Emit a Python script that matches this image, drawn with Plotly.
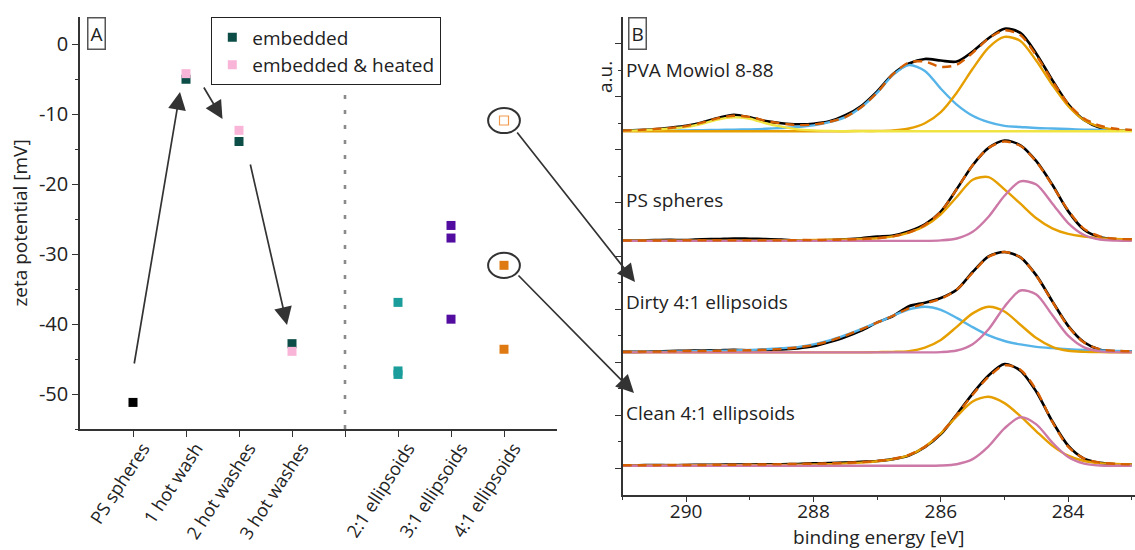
import plotly.graph_objects as go

# ---------------- Panel A: zeta potential ----------------
category_labels = ["PS spheres", "1 hot wash", "2 hot washes", "3 hot washes", "",
                   "2:1 ellipsoids", "3:1 ellipsoids", "4:1 ellipsoids"]
category_pos = [1, 2, 3, 4, 5, 6, 7, 8]
zeta_ticks = [0, -10, -20, -30, -40, -50]
zeta_tick_text = ["0", "-10", "-20", "-30", "-40", "-50"]

ps_spheres_zeta = [-51.2]
wash_pos = [2, 3, 4]
embedded_zeta = [-5.0, -13.9, -42.8]
heated_zeta = [-4.2, -12.3, -43.9]
ellipsoid_21_zeta = [-36.9, -46.7, -47.2]
ellipsoid_31_zeta = [-25.9, -27.7, -39.3]
ellipsoid_41_zeta = [-31.6, -43.6]
ellipsoid_41_open_zeta = [-10.9]

# ---------------- Panel B: C1s XPS spectra ----------------
energy_ev = [291.0, 290.75, 290.5, 290.25, 290.0, 289.75, 289.5, 289.25, 289.0, 288.75,
             288.5, 288.25, 288.0, 287.75, 287.5, 287.25, 287.0, 286.75, 286.5, 286.25,
             286.0, 285.75, 285.5, 285.25, 285.0, 284.75, 284.5, 284.25, 284.0, 283.75,
             283.5, 283.25, 283.0]

pva_measured = [0.02, 0.04, 0.07, 0.13, 0.20, 0.33, 0.50, 0.62, 0.52, 0.38,
                0.30, 0.26, 0.28, 0.37, 0.60, 0.95, 1.50, 2.15, 2.55, 2.72,
                2.66, 2.62, 3.00, 3.50, 3.86, 3.70, 2.92, 1.93, 1.02, 0.42,
                0.13, 0.04, 0.02]
pva_fit = [0.02, 0.04, 0.08, 0.12, 0.19, 0.32, 0.49, 0.58, 0.54, 0.39,
           0.29, 0.23, 0.25, 0.35, 0.53, 0.90, 1.45, 2.15, 2.59, 2.62,
           2.42, 2.50, 2.95, 3.49, 3.80, 3.62, 2.85, 1.90, 1.03, 0.48,
           0.21, 0.09, 0.05]
pva_blue = [0.01, 0.01, 0.02, 0.02, 0.03, 0.04, 0.05, 0.06, 0.07, 0.09,
            0.12, 0.16, 0.22, 0.34, 0.53, 0.90, 1.45, 2.12, 2.49, 2.27,
            1.60, 1.00, 0.58, 0.34, 0.20, 0.16, 0.12, 0.10, 0.08, 0.06,
            0.05, 0.04, 0.04]
pva_orange = [0, 0, 0, 0, 0, 0, 0, 0, 0, 0,
              0, 0, 0, 0, 0, 0.01, 0.01, 0.03, 0.10, 0.30,
              0.72, 1.45, 2.35, 3.15, 3.55, 3.40, 2.65, 1.75, 0.95, 0.42,
              0.16, 0.05, 0.01]
pva_yellow = [0.01, 0.03, 0.06, 0.10, 0.16, 0.28, 0.44, 0.52, 0.47, 0.30,
              0.17, 0.07, 0.03, 0.01, 0, 0, 0, 0, 0, 0,
              0, 0, 0, 0, 0, 0, 0, 0, 0, 0,
              0, 0, 0]

ps_measured = [0.01, 0.01, 0.03, 0.04, 0.03, 0.06, 0.07, 0.09, 0.08, 0.07,
               0.05, 0.01, 0.02, 0.03, 0.06, 0.10, 0.16, 0.20, 0.36, 0.62,
               1.10, 1.95, 2.85, 3.50, 3.78, 3.60, 3.00, 2.12, 1.12, 0.42,
               0.14, 0.06, 0.05]
ps_fit = [0.01, 0.01, 0.01, 0.01, 0.02, 0.02, 0.02, 0.02, 0.02, 0.02,
          0.02, 0.03, 0.03, 0.04, 0.05, 0.07, 0.10, 0.17, 0.32, 0.60,
          1.10, 1.95, 2.85, 3.50, 3.74, 3.58, 2.98, 2.10, 1.15, 0.45,
          0.17, 0.08, 0.06]
ps_orange = [0.01, 0.01, 0.01, 0.01, 0.01, 0.01, 0.01, 0.01, 0.01, 0.01,
             0.02, 0.02, 0.03, 0.04, 0.05, 0.07, 0.10, 0.17, 0.31, 0.56,
             1.00, 1.65, 2.30, 2.40, 1.94, 1.40, 0.85, 0.47, 0.26, 0.16,
             0.10, 0.07, 0.05]
ps_pink = [0, 0, 0, 0, 0, 0, 0, 0, 0, 0,
           0, 0, 0, 0, 0, 0, 0, 0, 0, 0,
           0.02, 0.09, 0.34, 0.91, 1.70, 2.24, 2.12, 1.41, 0.67, 0.22,
           0.05, 0.01, 0]

dirty_measured = [0.02, 0.02, 0.03, 0.05, 0.06, 0.07, 0.08, 0.10, 0.08, 0.10,
                  0.11, 0.15, 0.23, 0.39, 0.58, 0.82, 1.13, 1.37, 1.74, 1.87,
                  2.05, 2.36, 3.03, 3.62, 3.78, 3.58, 2.90, 1.93, 1.00, 0.38,
                  0.10, 0.04, 0.03]
dirty_fit = [0.02, 0.03, 0.03, 0.04, 0.05, 0.05, 0.06, 0.07, 0.08, 0.10,
             0.13, 0.19, 0.28, 0.43, 0.63, 0.87, 1.12, 1.38, 1.66, 1.84,
             2.02, 2.36, 3.00, 3.60, 3.78, 3.58, 2.88, 1.92, 0.98, 0.37,
             0.12, 0.06, 0.04]
dirty_blue = [0.01, 0.02, 0.02, 0.03, 0.04, 0.05, 0.06, 0.07, 0.09, 0.12,
              0.16, 0.20, 0.30, 0.45, 0.65, 0.88, 1.12, 1.38, 1.62, 1.72,
              1.60, 1.30, 0.95, 0.64, 0.43, 0.30, 0.21, 0.16, 0.12, 0.09,
              0.07, 0.05, 0.04]
dirty_orange = [0, 0, 0, 0, 0, 0, 0, 0, 0, 0,
                0, 0, 0, 0, 0, 0, 0.01, 0.02, 0.05, 0.18,
                0.47, 0.96, 1.47, 1.72, 1.54, 1.04, 0.54, 0.21, 0.06, 0.02,
                0.01, 0, 0]
dirty_pink = [0, 0, 0, 0, 0, 0, 0, 0, 0, 0,
              0, 0, 0, 0, 0, 0, 0, 0, 0, 0,
              0.01, 0.07, 0.31, 0.87, 1.72, 2.33, 2.18, 1.41, 0.63, 0.19,
              0.04, 0.01, 0]

clean_measured = [0.02, 0.02, 0.03, 0.02, 0.03, 0.04, 0.04, 0.05, 0.05, 0.06,
                  0.06, 0.07, 0.09, 0.10, 0.12, 0.15, 0.18, 0.25, 0.39, 0.70,
                  1.19, 1.93, 2.72, 3.40, 3.83, 3.58, 2.79, 1.68, 0.76, 0.27,
                  0.11, 0.06, 0.05]
clean_fit = [0.02, 0.02, 0.02, 0.03, 0.03, 0.03, 0.04, 0.04, 0.05, 0.05,
             0.06, 0.07, 0.08, 0.09, 0.11, 0.14, 0.18, 0.26, 0.41, 0.72,
             1.22, 1.92, 2.68, 3.35, 3.78, 3.62, 2.85, 1.66, 0.72, 0.27,
             0.12, 0.07, 0.05]
clean_orange = [0.01, 0.01, 0.01, 0.01, 0.02, 0.02, 0.02, 0.02, 0.03, 0.03,
                0.03, 0.04, 0.05, 0.06, 0.09, 0.12, 0.17, 0.25, 0.40, 0.72,
                1.22, 1.86, 2.42, 2.60, 2.36, 1.87, 1.30, 0.76, 0.38, 0.18,
                0.10, 0.07, 0.05]
clean_pink = [0, 0, 0, 0, 0, 0, 0, 0, 0, 0,
              0, 0, 0, 0, 0, 0, 0, 0, 0, 0,
              0.01, 0.06, 0.25, 0.73, 1.41, 1.83, 1.56, 0.88, 0.33, 0.08,
              0.01, 0, 0]

spectrum_names = ["PVA Mowiol 8-88", "PS spheres", "Dirty 4:1 ellipsoids", "Clean 4:1 ellipsoids"]

# ---------------- styling ----------------
FONT = "Open Sans"
TXT = "#222222"
AX = "#333333"
W, H = 1135, 550
LABEL_SIZE = 19
TICK_SIZE = 20

C_BLUE = "#56B4E9"
C_ORANGE = "#E69F00"
C_PINK = "#CC79A7"
C_YELLOW = "#F0E442"
C_FIT = "#D55E00"

# vertical offsets used to stack the spectra
stack_offset = {"PVA Mowiol 8-88": 13.7, "PS spheres": 9.57,
                "Dirty 4:1 ellipsoids": 5.37, "Clean 4:1 ellipsoids": 1.1}


def px(x):
    return x / W


def py(y):
    return 1 - y / H


fig = go.Figure()


# ---- panel A markers ----
def add_points(x, y, color, name=None, symbol="square", legend=False):
    fig.add_trace(go.Scatter(
        x=x, y=y, mode="markers", name=name, showlegend=legend,
        marker=dict(symbol=symbol, size=9, color=color,
                    line=dict(width=1.2 if "open" in symbol else 0, color=color)),
        xaxis="x", yaxis="y", hoverinfo="x+y"))


add_points(wash_pos, embedded_zeta, "#0c4d47", "embedded", legend=True)
add_points(wash_pos, heated_zeta, "#f9b5d8", "embedded & heated", legend=True)
add_points([1], ps_spheres_zeta, "#000000")
add_points([6] * len(ellipsoid_21_zeta), ellipsoid_21_zeta, "#1b9e9b")
add_points([7] * len(ellipsoid_31_zeta), ellipsoid_31_zeta, "#520ca0")
add_points([8] * len(ellipsoid_41_zeta), ellipsoid_41_zeta, "#df7a13")
add_points([8], ellipsoid_41_open_zeta, "#ef9a4e", symbol="square-open")

# ---- panel B spectra ----
spectra = [
    ("PVA Mowiol 8-88", pva_measured, pva_fit,
     [(pva_blue, C_BLUE), (pva_orange, C_ORANGE), (pva_yellow, C_YELLOW)]),
    ("PS spheres", ps_measured, ps_fit,
     [(ps_orange, C_ORANGE), (ps_pink, C_PINK)]),
    ("Dirty 4:1 ellipsoids", dirty_measured, dirty_fit,
     [(dirty_blue, C_BLUE), (dirty_orange, C_ORANGE), (dirty_pink, C_PINK)]),
    ("Clean 4:1 ellipsoids", clean_measured, clean_fit,
     [(clean_orange, C_ORANGE), (clean_pink, C_PINK)]),
]

for name, measured, fit, comps in spectra:
    off = stack_offset[name]
    fig.add_trace(go.Scatter(
        x=energy_ev, y=[v + off for v in measured], mode="lines",
        line=dict(color="#000000", width=2.6, shape="spline", smoothing=0.8),
        xaxis="x2", yaxis="y2", showlegend=False, name=name))
    for comp, col in comps:
        fig.add_trace(go.Scatter(
            x=energy_ev, y=[v + off for v in comp], mode="lines",
            line=dict(color=col, width=2.4, shape="spline", smoothing=0.8),
            xaxis="x2", yaxis="y2", showlegend=False))
    fig.add_trace(go.Scatter(
        x=energy_ev, y=[v + off for v in fit], mode="lines",
        line=dict(color=C_FIT, width=2.4, dash="9px,6px", shape="spline", smoothing=0.8),
        xaxis="x2", yaxis="y2", showlegend=False))

# ---------------- axes ----------------
dom_a_x = [px(80), px(557)]
dom_a_y = [py(429), py(17)]
dom_b_x = [px(622.5), 1.0]
dom_b_y = [py(495), py(17)]
tickfont = dict(family=FONT, size=TICK_SIZE, color=TXT)
label_font = dict(family=FONT, size=LABEL_SIZE, color=TXT)
line_kw = dict(showline=True, linecolor=AX, linewidth=1.6, showgrid=False,
               zeroline=False, tickcolor=AX, tickwidth=1.4, automargin=False)

fig.update_layout(
    width=W, height=H,
    margin=dict(l=0, r=0, t=0, b=0, autoexpand=False),
    paper_bgcolor="white", plot_bgcolor="white",
    font=dict(family=FONT, color=TXT),
    xaxis=dict(domain=dom_a_x, anchor="y", range=[0, 9],
               tickmode="array", tickvals=category_pos, ticktext=category_labels,
               ticks="outside", ticklen=6, tickangle=-57,
               ticklabelshift=10, ticklabelstandoff=-6,
               tickfont=dict(family=FONT, size=18, color=TXT), **line_kw),
    yaxis=dict(domain=dom_a_y, anchor="x", range=[-55, 3.9],
               tickmode="array", tickvals=zeta_ticks, ticktext=zeta_tick_text,
               ticks="outside", ticklen=6, tickfont=tickfont,
               minor=dict(dtick=5, ticks="outside", ticklen=3, tickcolor=AX),
               title=dict(text="zeta potential [mV]", standoff=6, font=label_font),
               **line_kw),
    xaxis3=dict(overlaying="x", anchor="y", side="top", range=[0, 9],
                tickmode="array", tickvals=category_pos, ticks="inside", ticklen=5,
                showticklabels=False, **line_kw),
    yaxis3=dict(overlaying="y", anchor="x", side="right", range=[-55, 3.9],
                tick0=0, dtick=5, ticks="inside", ticklen=5,
                showticklabels=False, **line_kw),
    xaxis2=dict(domain=dom_b_x, anchor="y2", range=[291, 282.95],
                tick0=0, dtick=2, ticks="outside", ticklen=5,
                tickfont=dict(family=FONT, size=19, color=TXT),
                ticklabelstandoff=-7,
                minor=dict(dtick=1, ticks="outside", ticklen=3, tickcolor=AX),
                title=dict(text="binding energy [eV]", standoff=0, font=label_font),
                **line_kw),
    yaxis2=dict(domain=dom_b_y, anchor="x2", range=[0, 18],
                tickmode="array", tickvals=[1, 3, 5, 7, 9, 11, 13, 15, 17],
                ticks="outside", ticklen=6, showticklabels=False,
                minor=dict(tickvals=[2, 4, 6, 8, 10, 12, 14, 16], ticks="outside",
                           ticklen=3, tickcolor=AX),
                **line_kw),
    xaxis4=dict(overlaying="x2", anchor="y2", side="top", range=[291, 282.95],
                tick0=0, dtick=1, ticks="inside", ticklen=5,
                showticklabels=False, **line_kw),
    legend=dict(x=px(211), y=py(17), xanchor="left", yanchor="top",
                bgcolor="white", bordercolor="#222", borderwidth=1.3,
                font=label_font, tracegroupgap=0, itemwidth=30),
)

# ---------------- shapes ----------------
shapes = [
    # divider between washing series and ellipsoids
    dict(type="line", xref="x", yref="y domain", x0=5, x1=5, y0=0, y1=1,
         line=dict(color="#8a8a8a", width=2.6, dash="4px,11px")),
    # highlight rings around the two 4:1 measurements
    dict(type="circle", xref="x", yref="y", x0=7.7, x1=8.3,
         y0=ellipsoid_41_open_zeta[0] - 1.8, y1=ellipsoid_41_open_zeta[0] + 1.8,
         line=dict(color="#333", width=2)),
    dict(type="circle", xref="x", yref="y", x0=7.7, x1=8.3,
         y0=ellipsoid_41_zeta[0] - 1.8, y1=ellipsoid_41_zeta[0] + 1.8,
         line=dict(color="#333", width=2)),
]
fig.update_layout(shapes=shapes)

# ---------------- annotations ----------------
ann = []


def arrow(tip, tail):
    ann.append(dict(xref="paper", yref="paper", x=px(tip[0]), y=py(tip[1]),
                    ax=tail[0] - tip[0], ay=tail[1] - tip[1], text="",
                    showarrow=True, arrowhead=2, arrowsize=2.1, arrowwidth=1.7,
                    arrowcolor="#333333"))


arrow((180, 92), (134, 365))
arrow((222.5, 119), (203, 86))
arrow((287, 325), (250, 163))
arrow((635, 282), (516, 131))
arrow((634, 393), (517, 274))

for letter, cx, cy in [("A", 96, 34), ("B", 637.5, 33)]:
    ann.append(dict(xref="paper", yref="paper", x=px(cx), y=py(cy), text=letter,
                    xanchor="center", yanchor="middle", showarrow=False,
                    font=label_font, bordercolor="#555", borderwidth=1.5,
                    borderpad=2, bgcolor="white"))

ann.append(dict(xref="paper", yref="paper", x=px(605), y=py(77), text="a.u.",
                xanchor="center", yanchor="middle", textangle=-90,
                showarrow=False, font=label_font))

for name, ycen in zip(spectrum_names, [70, 200, 302, 413]):
    ann.append(dict(xref="paper", yref="paper", x=px(624), y=py(ycen), text=name,
                    xanchor="left", yanchor="middle", showarrow=False,
                    font=label_font))

fig.update_layout(annotations=ann)

fig.write_html("out.html")
